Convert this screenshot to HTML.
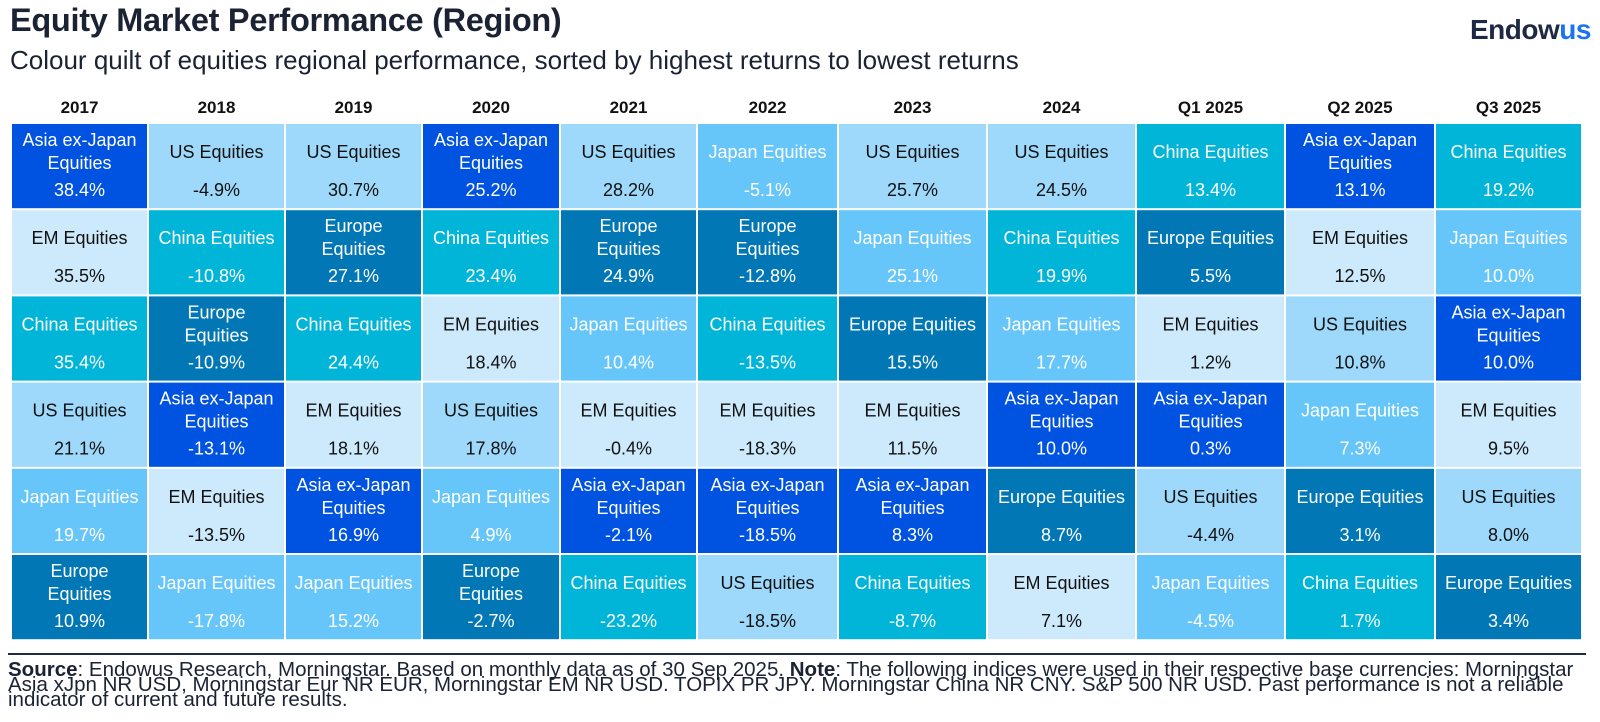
<!DOCTYPE html>
<html><head><meta charset="utf-8"><style>
body{margin:0;width:1600px;height:722px;background:#fff;font-family:"Liberation Sans",sans-serif;overflow:hidden;position:relative}
.abs{position:absolute}
</style></head><body>
<div class="abs" style="left:10px;top:2px;font-size:32.5px;font-weight:bold;color:#1a2233;letter-spacing:-0.3px">Equity Market Performance (Region)</div>
<div class="abs" style="left:10px;top:45px;font-size:26px;color:#1a2233">Colour quilt of equities regional performance, sorted by highest returns to lowest returns</div>
<div class="abs" style="left:1470px;top:14px;font-size:28px;font-weight:bold;color:#1e2a44;letter-spacing:-0.5px">Endow<span style="color:#1a73f0">us</span></div>
<svg id="quilt" class="abs" style="left:0;top:0" width="1600" height="650"></svg>
<div class="abs" style="left:8px;top:653px;width:1578px;height:2px;background:#1e2a44"></div>
<div class="abs" style="left:8px;top:662px;width:1592px;font-size:20.5px;line-height:15px;color:#1a2233;white-space:nowrap"><b>Source</b>: Endowus Research, Morningstar. Based on monthly data as of 30 Sep 2025. <b>Note</b>: The following indices were used in their respective base currencies: Morningstar<br>Asia xJpn NR USD, Morningstar Eur NR EUR, Morningstar EM NR USD. TOPIX PR JPY. Morningstar China NR CNY. S&amp;P 500 NR USD. Past performance is not a reliable<br>indicator of current and future results.</div>
<script>
const periods=["2017","2018","2019","2020","2021","2022","2023","2024","Q1 2025","Q2 2025","Q3 2025"];
const rank1=["Asia","US","US","Asia","US","Japan","US","US","China","Asia","China"];
const rank1v=[38.4,-4.9,30.7,25.2,28.2,-5.1,25.7,24.5,13.4,13.1,19.2];
const rank2=["EM","China","Europe","China","Europe","Europe","Japan","China","Europe","EM","Japan"];
const rank2v=[35.5,-10.8,27.1,23.4,24.9,-12.8,25.1,19.9,5.5,12.5,10.0];
const rank3=["China","Europe","China","EM","Japan","China","Europe","Japan","EM","US","Asia"];
const rank3v=[35.4,-10.9,24.4,18.4,10.4,-13.5,15.5,17.7,1.2,10.8,10.0];
const rank4=["US","Asia","EM","US","EM","EM","EM","Asia","Asia","Japan","EM"];
const rank4v=[21.1,-13.1,18.1,17.8,-0.4,-18.3,11.5,10.0,0.3,7.3,9.5];
const rank5=["Japan","EM","Asia","Japan","Asia","Asia","Asia","Europe","US","Europe","US"];
const rank5v=[19.7,-13.5,16.9,4.9,-2.1,-18.5,8.3,8.7,-4.4,3.1,8.0];
const rank6=["Europe","Japan","Japan","Europe","China","US","China","EM","Japan","China","Europe"];
const rank6v=[10.9,-17.8,15.2,-2.7,-23.2,-18.5,-8.7,7.1,-4.5,1.7,3.4];
const names=[rank1,rank2,rank3,rank4,rank5,rank6];
const vals=[rank1v,rank2v,rank3v,rank4v,rank5v,rank6v];
const style={Asia:["#0052e0","#fff","Asia ex-Japan Equities"],US:["#9ed9fb","#111","US Equities"],China:["#00b5d8","#fff","China Equities"],Europe:["#0277b5","#fff","Europe Equities"],EM:["#cdeafc","#111","EM Equities"],Japan:["#66c6fa","#fff","Japan Equities"]};
const edges=[11,148,285,422,560,697,838,987,1136,1285,1435,1582];
const top0=123,rowH=86.2;
const svg=document.getElementById('quilt');const NS="http://www.w3.org/2000/svg";
function t(x,y,s,opt){const e=document.createElementNS(NS,'text');e.setAttribute('x',x);e.setAttribute('y',y);e.setAttribute('text-anchor','middle');e.setAttribute('font-family','Liberation Sans, sans-serif');for(const k in opt)e.setAttribute(k,opt[k]);e.textContent=s;svg.appendChild(e);return e;}
periods.forEach((p,c)=>{
 const x0=edges[c],w=edges[c+1]-edges[c],cx=x0+w/2;
 const h=t(cx,113,p,{'font-size':17,'font-weight':'bold','fill':'#111'});
 
 
 for(let r=0;r<6;r++){
  const k=names[r][c],st=style[k],y0=top0+r*rowH;
  const g=document.createElementNS(NS,'g');
  
  
  const rc=document.createElementNS(NS,'rect');
  rc.setAttribute('x',x0+1);rc.setAttribute('y',y0+1);rc.setAttribute('width',w-2);rc.setAttribute('height',rowH-2);rc.setAttribute('fill',st[0]);
  g.appendChild(rc);svg.appendChild(g);
  const wrap=k==="Asia"||(k==="Europe"&&w<145);
  const o={'font-size':18,'fill':st[1]};
  if(wrap){const parts=k==="Asia"?["Asia ex-Japan","Equities"]:["Europe","Equities"];
   t(cx,y0+23,parts[0],o);t(cx,y0+46,parts[1],o);}
  else t(cx,y0+35,st[2],o);
  t(cx,y0+73,vals[r][c].toFixed(1)+"%",o);
 }
});
</script>
</body></html>
